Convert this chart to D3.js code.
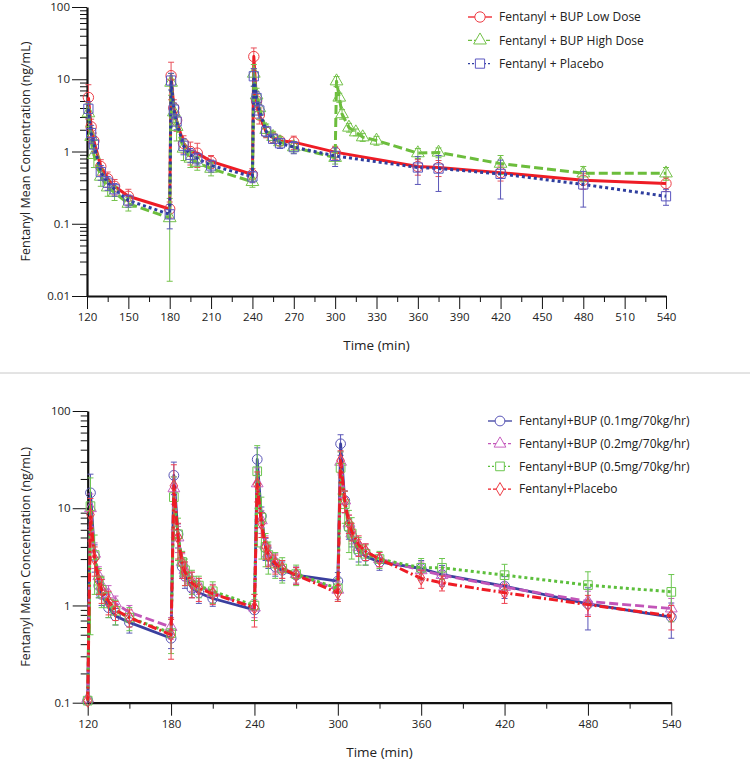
<!DOCTYPE html>
<html><head><meta charset="utf-8">
<script src="https://cdn.jsdelivr.net/npm/d3@7"></script>
<style>
html,body{margin:0;padding:0;background:#fff;}
svg{display:block;font-family:"Open Sans",sans-serif;}
</style></head>
<body><svg id="c" width="750" height="764"></svg>
<script>
// ---------- TOP PANEL DATA ----------
const topTimes = [121,123,125,130,135,140,150,180, 181,183,185,190,195,200,210,240, 241,243,245,250,255,260,270,300, 360,375,420,480,540];
const topTimesHigh = [121,123,125,130,135,140,150,180, 181,183,185,190,195,200,210,240, 241,243,245,250,255,260,270,300, 301,303,305,310,315,320,330,360,375,420,480,540];
const topLowDose = [5.6,2.2,1.4,0.62,0.42,0.33,0.24,0.16, 11.2,4.0,2.7,1.3,1.0,0.95,0.73,0.48, 20.6,5.0,3.2,1.85,1.55,1.4,1.35,0.98, 0.62,0.6,0.51,0.4,0.36];
const topLowDoseSD = [2.8,0.6,0.4,0.15,0.1,0.08,0.06,0.04, 6,1.2,0.8,0.35,0.35,0.35,0.15,0.1, 6.5,1.2,0.8,0.3,0.25,0.2,0.28,0.2, 0.15,0.15,0.12,0.1,0.08];
const topHighDose = [3.4,1.6,0.9,0.45,0.32,0.27,0.19,0.12, 9.0,3.5,2.2,1.1,0.8,0.7,0.58,0.38, 12,6,4.0,2.0,1.6,1.35,1.15,0.82, 9.4,5.6,3.3,2.15,1.85,1.58,1.42,0.95,0.97,0.68,0.5,0.5];
const topHighDoseSD = [1.2,0.5,0.3,0.12,0.08,0.06,0.04,0.104, 3,1.0,0.8,0.35,0.2,0.15,0.12,0.06, 4,1.5,1.2,0.4,0.3,0.25,0.2,0.15, 1.5,0.8,0.5,0.3,0.2,0.2,0.2,0.15,0.15,0.2,0.12,0.1];
const topPlacebo = [3.9,1.8,1.25,0.52,0.37,0.3,0.21,0.135, 9.6,3.8,2.6,1.2,0.9,0.8,0.64,0.45, 11,5.5,3.7,1.9,1.5,1.3,1.15,0.87, 0.6,0.58,0.49,0.35,0.24];
const topPlaceboSD = [1.0,0.5,0.3,0.12,0.08,0.06,0.04,0.05, 2.5,0.9,0.6,0.3,0.2,0.15,0.12,0.08, 3,1.2,0.8,0.3,0.2,0.2,0.22,0.25, 0.25,0.3,0.27,0.18,0.06];
const topLegend = ["Fentanyl + BUP Low Dose","Fentanyl + BUP High Dose","Fentanyl + Placebo"];
const topXTicks = [120,150,180,210,240,270,300,330,360,390,420,450,480,510,540];
const topYTicks = [100,10,1,0.1,0.01];

// ---------- BOTTOM PANEL DATA ----------
const botTimes = [120, 122,125,128,130,135,140,150,180, 182,185,188,190,195,200,210,240, 242,245,248,250,255,260,270,300, 302,305,308,310,315,320,330, 360,375,420,480,540];
const bot01 = [0.105,14.4,3.2,1.6,1.3,0.95,0.78,0.67,0.46, 21.8,5.4,2.5,2.0,1.5,1.35,1.18,0.9, 31.8,8.3,3.9,3.2,2.5,2.3,2.05,1.78, 46,12,6.3,5.2,3.6,3.2,2.8, 2.4,2.08,1.58,1.04,0.76];
const bot01SD = [0,8,1.0,0.4,0.3,0.2,0.15,0.15,0.1, 8,1.5,0.6,0.5,0.3,0.3,0.2,0.2, 10,2,1,0.8,0.5,0.5,0.4,0.4, 11,3,1.5,1.2,0.8,0.6,0.5, 0.5,0.5,0.4,0.48,0.3];
const bot02 = [0.11,10,3.4,2.0,1.6,1.3,1.05,0.85,0.6, 16,5.0,2.8,2.3,1.8,1.6,1.35,0.95, 18,7.5,4.2,3.4,2.8,2.4,2.1,1.45, 30,12,7,5.5,4.0,3.6,3.0, 2.3,2.05,1.55,1.1,0.93];
const bot02SD = [0,4,1.0,0.5,0.4,0.3,0.2,0.15,0.15, 5,1.5,0.6,0.5,0.4,0.3,0.3,0.2, 8,2,1,0.8,0.6,0.5,0.4,0.3, 8,3,1.5,1.2,0.8,0.7,0.5, 0.5,0.4,0.3,0.3,0.25];
const bot05 = [0.105,10.5,3.3,1.8,1.45,1.05,0.88,0.75,0.52, 13,5.4,2.8,2.3,1.8,1.6,1.4,1.0, 24,8,4.0,3.3,2.7,2.4,2.1,1.5, 26,11,6.5,5.5,3.8,3.4,3.0, 2.44,2.44,2.05,1.62,1.38];
const bot05SD = [0,10,2.0,0.6,0.5,0.3,0.25,0.2,0.2, 8,2.5,0.8,0.7,0.5,0.4,0.35,0.3, 20,5,1.5,1.2,0.8,0.7,0.5,0.4, 12,4,3,2.5,1.2,0.8,0.6, 0.6,0.6,0.6,0.6,0.7];
const botPlacebo = [0.105,8.6,3.0,1.8,1.45,1.1,0.9,0.75,0.5, 17,5.0,2.7,2.2,1.7,1.5,1.32,0.95, 17.6,7,4.0,3.3,2.7,2.4,2.05,1.35, 31,12,7,5.8,4.2,3.6,3.0, 1.9,1.71,1.35,1.02,0.78];
const botPlaceboSD = [0,4,1.0,0.5,0.4,0.3,0.2,0.15,0.22, 11,2,0.8,0.6,0.5,0.4,0.3,0.35, 6,2,1,0.8,0.6,0.5,0.4,0.25, 8,3,1.5,1.2,1.0,0.7,0.5, 0.4,0.3,0.3,0.25,0.22];
const botLegend = ["Fentanyl+BUP (0.1mg/70kg/hr)","Fentanyl+BUP (0.2mg/70kg/hr)","Fentanyl+BUP (0.5mg/70kg/hr)","Fentanyl+Placebo"];
const botXTicks = [120,180,240,300,360,420,480,540];
const botYTicks = [100,10,1,0.1];

const yTitle = "Fentanyl Mean Concentration (ng/mL)";
const xTitle = "Time (min)";

const svg = d3.select("#c");
const TXT = "#222";

function sym(type, size){
  return d3.symbol().type(type).size(size)();
}

function drawPanel(cfg){
  const g = svg.append("g");
  const x = d3.scaleLinear().domain([120,540]).range([cfg.x0, cfg.x1]);
  const y = d3.scaleLog().domain([cfg.ymin, 100]).range([cfg.yb, cfg.yt]);

  // minor y ticks
  const minorY = [];
  for (let e = Math.log10(cfg.ymin); e < 2; e++) {
    for (let k = 2; k <= 9; k++) minorY.push(k * Math.pow(10, e));
  }
  g.append("g").attr("transform",`translate(${cfg.x0},0)`)
    .call(d3.axisLeft(y).tickValues(minorY).tickSize(7).tickFormat("").tickSizeOuter(0))
    .call(a=>a.select(".domain").remove())
    .call(a=>a.selectAll("line").attr("stroke","#111").attr("stroke-width",1));
  g.append("g").attr("transform",`translate(${cfg.x0},0)`)
    .call(d3.axisLeft(y).tickValues(cfg.yTicks).tickSize(15).tickPadding(2).tickSizeOuter(0)
      .tickFormat(d=>String(d)))
    .call(a=>a.select(".domain").attr("stroke","#111").attr("stroke-width",2.2))
    .call(a=>a.selectAll("line").attr("stroke","#111").attr("stroke-width",1))
    .call(a=>a.selectAll("text").attr("fill",TXT).style("font-size","11.5px").style("font-family","'Open Sans',sans-serif"));

  // x axis
  g.append("g").attr("transform",`translate(0,${cfg.yb})`)
    .call(d3.axisBottom(x).tickValues(cfg.xMinor).tickSize(6).tickFormat("").tickSizeOuter(0))
    .call(a=>a.select(".domain").remove())
    .call(a=>a.selectAll("line").attr("stroke","#111").attr("stroke-width",1));
  g.append("g").attr("transform",`translate(0,${cfg.yb})`)
    .call(d3.axisBottom(x).tickValues(cfg.xTicks).tickSize(13).tickPadding(4).tickSizeOuter(0))
    .call(a=>a.select(".domain").attr("stroke","#111").attr("stroke-width",2.2))
    .call(a=>a.selectAll("line").attr("stroke","#111").attr("stroke-width",1))
    .call(a=>a.selectAll("text").attr("fill",TXT).style("font-size","11.5px").style("font-family","'Open Sans',sans-serif"));

  // titles
  g.append("text").attr("x",(cfg.x0+cfg.x1)/2).attr("y",cfg.yb+54)
    .attr("text-anchor","middle").attr("fill",TXT).style("font-size","13.5px").text(xTitle);
  g.append("text").attr("transform",`translate(30,${(cfg.yt+cfg.yb)/2}) rotate(-90)`)
    .attr("text-anchor","middle").attr("fill",TXT).style("font-size","12.5px").text(yTitle);

  // series
  cfg.series.forEach(s=>{
    const pts = s.t.map((t,i)=>({t, v:s.v[i], sd:s.sd[i]}));
    const sg = g.append("g");
    pts.forEach(p=>{
      if (!p.sd) return;
      const hi = p.v + p.sd, lo = Math.max(p.v - p.sd, cfg.ymin);
      const cx = x(p.t);
      sg.append("line").attr("x1",cx).attr("x2",cx).attr("y1",y(hi)).attr("y2",y(lo))
        .attr("stroke",s.err).attr("stroke-width",1);
      [hi, lo].forEach(val=>{
        if (val <= cfg.ymin) return;
        sg.append("line").attr("x1",cx-3).attr("x2",cx+3).attr("y1",y(val)).attr("y2",y(val))
          .attr("stroke",s.err).attr("stroke-width",1);
      });
    });
    sg.append("path").datum(pts)
      .attr("d", d3.line().x(d=>x(d.t)).y(d=>y(d.v)))
      .attr("fill","none").attr("stroke",s.color).attr("stroke-width",s.w)
      .attr("stroke-dasharray",s.dash||null).attr("stroke-linejoin","round");
    sg.selectAll("path.m").data(pts).enter().append("path").attr("class","m")
      .attr("transform",d=>`translate(${x(d.t)},${y(d.v)})`)
      .attr("d",sym(s.sym, s.size))
      .attr("fill","none").attr("stroke",s.mcolor).attr("stroke-width",1);
  });

  // legend
  const lg = g.append("g");
  cfg.legendOrder.forEach((s,i)=>{
    const yy = cfg.ly + i*cfg.lstep;
    lg.append("line").attr("x1",cfg.lx).attr("x2",cfg.lx+24).attr("y1",yy).attr("y2",yy)
      .attr("stroke",s.color).attr("stroke-width",1.3).attr("stroke-dasharray",s.ldash||null);
    lg.append("path").attr("transform",`translate(${cfg.lx+12},${yy})`).attr("d",sym(s.sym,s.size))
      .attr("fill","#fff").attr("stroke",s.mcolor).attr("stroke-width",1);
    lg.append("text").attr("x",cfg.lx+31).attr("y",yy).attr("dy","0.35em")
      .attr("fill",TXT).style("font-size","12px").text(s.name);
  });
}

// Top panel
const sLow = {name:topLegend[0], t:topTimes, v:topLowDose, sd:topLowDoseSD, color:"#ee1c25", mcolor:"#ee3c44", err:"#e8505a", w:3, dash:null, ldash:null, sym:d3.symbolCircle, size:85};
const sHigh = {name:topLegend[1], t:topTimesHigh, v:topHighDose, sd:topHighDoseSD, color:"#6cbd3c", mcolor:"#74c24a", err:"#74c24a", w:3, dash:"9,4", ldash:"4,2", sym:d3.symbolTriangle, size:70};
const sPla = {name:topLegend[2], t:topTimes, v:topPlacebo, sd:topPlaceboSD, color:"#2e3e9e", mcolor:"#5a56c0", err:"#5a56b8", w:3, dash:"3,3", ldash:"2,2", sym:d3.symbolSquare, size:85};
drawPanel({x0:87, x1:666, yt:7, yb:296, ymin:0.01,
  xTicks:topXTicks, xMinor:d3.range(135,540,30), yTicks:topYTicks,
  series:[sLow, sHigh, sPla], legendOrder:[sLow,sHigh,sPla],
  lx:468, ly:17, lstep:23.3});

// separator
svg.append("line").attr("x1",0).attr("x2",750).attr("y1",373).attr("y2",373).attr("stroke","#c8c8c8").attr("stroke-width",1);

// Bottom panel
const b1 = {name:botLegend[0], t:botTimes, v:bot01, sd:bot01SD, color:"#3a3f9e", mcolor:"#5a56b8", err:"#5a56b8", w:2.8, dash:null, ldash:null, sym:d3.symbolCircle, size:75};
const b2 = {name:botLegend[1], t:botTimes, v:bot02, sd:bot02SD, color:"#c255b8", mcolor:"#c860c0", err:"#c860c0", w:2.8, dash:"9,4", ldash:"3,2", sym:d3.symbolTriangle, size:60};
const b5 = {name:botLegend[2], t:botTimes, v:bot05, sd:bot05SD, color:"#5cbf3c", mcolor:"#6cc650", err:"#6cc650", w:3, dash:"3,3", ldash:"2,2", sym:d3.symbolSquare, size:75};
const bP = {name:botLegend[3], t:botTimes, v:botPlacebo, sd:botPlaceboSD, color:"#ee1c25", mcolor:"#ee3c44", err:"#ee4050", w:3, dash:"9,3,2,3", ldash:"3,2", sym:d3.symbolDiamond, size:50};
drawPanel({x0:87.7, x1:671.3, yt:411, yb:702.7, ymin:0.1,
  xTicks:botXTicks, xMinor:d3.range(150,540,60), yTicks:botYTicks,
  series:[b1, b2, b5, bP], legendOrder:[b1,b2,b5,bP],
  lx:488, ly:421, lstep:22.7});
</script></body></html>
